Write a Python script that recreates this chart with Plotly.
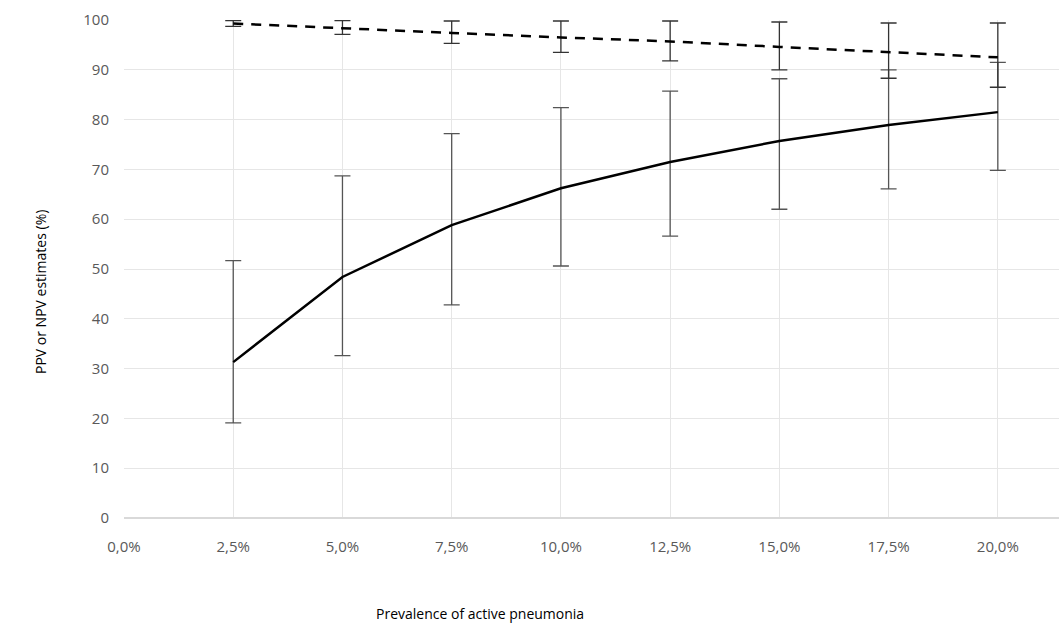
import plotly.graph_objects as go

prevalence = [2.5, 5.0, 7.5, 10.0, 12.5, 15.0, 17.5, 20.0]
ppv = [31.3, 48.4, 58.8, 66.2, 71.5, 75.7, 78.9, 81.5]
ppv_upper = [51.7, 68.7, 77.2, 82.4, 85.7, 88.2, 90.0, 91.5]
ppv_lower = [19.1, 32.6, 42.8, 50.6, 56.6, 62.0, 66.1, 69.8]
npv = [99.3, 98.3, 97.4, 96.5, 95.7, 94.6, 93.6, 92.5]
npv_upper = [99.9, 99.9, 99.8, 99.8, 99.8, 99.6, 99.4, 99.4]
npv_lower = [98.7, 97.1, 95.3, 93.5, 91.8, 90.0, 88.3, 86.5]

x_tickvals = [0, 2.5, 5.0, 7.5, 10.0, 12.5, 15.0, 17.5, 20.0]
x_ticktext = ["0,0%", "2,5%", "5,0%", "7,5%", "10,0%", "12,5%", "15,0%", "17,5%", "20,0%"]
y_tickvals = [0, 10, 20, 30, 40, 50, 60, 70, 80, 90, 100]

fig = go.Figure()

fig.add_trace(go.Scatter(
    x=prevalence, y=ppv, mode="lines", name="PPV",
    line=dict(color="black", width=2.5),
    error_y=dict(type="data", symmetric=False,
                 array=[u - v for u, v in zip(ppv_upper, ppv)],
                 arrayminus=[v - l for v, l in zip(ppv, ppv_lower)],
                 color="#555555", thickness=1.3, width=8),
))
fig.add_trace(go.Scatter(
    x=prevalence, y=npv, mode="lines", name="NPV",
    line=dict(color="black", width=2.5, dash="10px,8px"),
    error_y=dict(type="data", symmetric=False,
                 array=[u - v for u, v in zip(npv_upper, npv)],
                 arrayminus=[v - l for v, l in zip(npv, npv_lower)],
                 color="#333333", thickness=1.3, width=8),
))

fig.update_layout(
    width=1059, height=631,
    margin=dict(l=124, r=0, t=20, b=113),
    plot_bgcolor="white", paper_bgcolor="white",
    showlegend=False,
    font=dict(family="Open Sans, Liberation Sans, sans-serif", color="#595959", size=14),
    xaxis=dict(range=[0, 21.4], tickvals=x_tickvals, ticktext=x_ticktext,
               showgrid=False,
               minor=dict(tickvals=prevalence, showgrid=True, gridcolor="#e6e6e6",
                          gridwidth=1, ticks=""),
               zeroline=False, showline=False, ticks="", ticklabelstandoff=18,
               tickfont=dict(size=15, color="#595959")),
    yaxis=dict(range=[0, 100], tickvals=y_tickvals,
               showgrid=True, gridcolor="#e6e6e6", gridwidth=1,
               zeroline=True, zerolinecolor="#d9d9d9", zerolinewidth=1.5,
               showline=False, ticks="", ticklabelstandoff=14,
               tickfont=dict(size=15, color="#595959")),
    annotations=[
        dict(text="Prevalence of active pneumonia", xref="paper", yref="paper",
             x=(480 - 124) / (1059 - 124), y=-(613 - 518) / 498,
             xanchor="center", yanchor="middle", showarrow=False,
             font=dict(size=14, color="black")),
        dict(text="PPV or NPV estimates (%)", xref="paper", yref="paper",
             x=-(124 - 40) / (1059 - 124), y=(518 - 292) / 498,
             xanchor="center", yanchor="middle", showarrow=False, textangle=-90,
             font=dict(size=14, color="black")),
    ],
)

fig.write_html("out.html")
